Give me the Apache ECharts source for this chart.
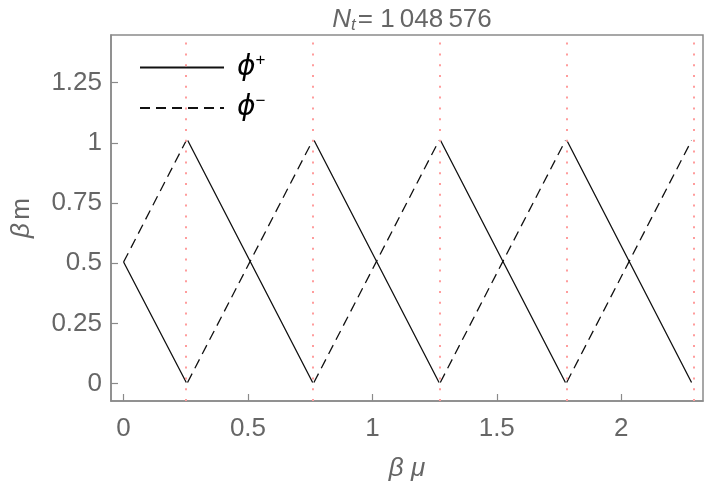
<!DOCTYPE html>
<html>
<head>
<meta charset="utf-8">
<script src="https://cdn.jsdelivr.net/npm/echarts@6/dist/echarts.min.js"></script>
<style>
  html, body { margin: 0; padding: 0; background: #fff; }
  #chart { width: 706px; height: 491px; }
</style>
</head>
<body>
<div id="chart"></div>
<script>
// phi+ (solid): sawtooth going down, jumps at the red lines
const phiPlus = [
  [0, 0.505], [0.252, 0.005], null,
  [0.258, 1.01], [0.760, 0.005], null,
  [0.766, 1.01], [1.268, 0.005], null,
  [1.274, 1.01], [1.776, 0.005], null,
  [1.782, 1.01], [2.283, 0.005],
];
// phi- (dashed): sawtooth going up
const phiMinus = [
  [0, 0.505], [0.252, 1.01], null,
  [0.257, 0.005], [0.760, 1.01], null,
  [0.765, 0.005], [1.268, 1.01], null,
  [1.273, 0.005], [1.776, 1.01], null,
  [1.781, 0.005], [2.283, 1.01],
];
// red dotted vertical markers
const redLines = [0.254, 0.762, 1.270, 1.778, 2.286];
const xTicks = [0, 0.5, 1, 1.5, 2];
const yTicks = [0, 0.25, 0.5, 0.75, 1, 1.25];

const gray = '#666';
const frame = '#8a8a8a';
const font = 'Liberation Sans, Arial, sans-serif';

const chart = echarts.init(document.getElementById('chart'));
chart.setOption({
  animation: false,
  textStyle: { fontFamily: font },
  title: {
    text: '{i|N}{s|t}{n|= 1\u2009048\u2009576}',
    left: 407,
    textAlign: 'center',
    top: 0,
    textStyle: {
      fontWeight: 'normal',
      rich: {
        i: { fontSize: 26, fontStyle: 'italic', fontWeight: 'normal', color: gray, fontFamily: font },
        s: { fontSize: 17, fontStyle: 'italic', fontWeight: 'normal', color: gray, fontFamily: font, verticalAlign: 'bottom', padding: [12, 2, 0, 0] },
        n: { fontSize: 26, fontWeight: 'normal', color: gray, fontFamily: font },
      },
    },
  },
  legend: {
    left: 134,
    top: 47,
    orient: 'vertical',
    itemWidth: 84,
    itemHeight: 14,
    itemGap: 11,
    data: ['phiPlus', 'phiMinus'],
    itemStyle: { opacity: 0 },
    formatter: name => name === 'phiPlus' ? '{p|\u03d5}{s|+}' : '{p|\u03d5}{s|\u2212}',
    textStyle: {
      padding: [0, 0, 0, 8],
      rich: {
        p: { fontSize: 28, fontStyle: 'italic', color: '#000', fontFamily: 'DejaVu Sans' },
        s: { fontSize: 17, color: '#000', verticalAlign: 'top', padding: [0, 0, 14, 0] },
      },
    },
  },
  grid: {
    left: 111,
    right: 3,
    top: 35,
    bottom: 90,
    show: true,
    borderColor: frame,
    borderWidth: 1.5,
  },
  xAxis: {
    type: 'value',
    min: -0.0506,
    max: 2.329,
    name: '{b|\u03b2 \u03bc}',
    nameLocation: 'middle',
    nameGap: 55,
    nameTextStyle: {
      rich: { b: { fontSize: 26, fontStyle: 'italic', color: gray, fontFamily: font } },
    },
    axisLine: { onZero: false, lineStyle: { color: frame, width: 1.5 } },
    axisTick: { inside: true, length: 7, customValues: xTicks, lineStyle: { color: frame, width: 1.2 } },
    axisLabel: { customValues: xTicks, margin: 15, fontSize: 26, color: gray, formatter: v => String(v) },
    splitLine: { show: false },
  },
  yAxis: {
    type: 'value',
    min: -0.072,
    max: 1.448,
    name: '{b|\u03b2} {m|m}',
    nameLocation: 'middle',
    nameGap: 76,
    nameTextStyle: {
      rich: {
        b: { fontSize: 26, fontStyle: 'italic', color: gray, fontFamily: font },
        m: { fontSize: 26, color: gray, fontFamily: font },
      },
    },
    axisLine: { onZero: false, lineStyle: { color: frame, width: 1.5 } },
    axisTick: { inside: true, length: 7, customValues: yTicks, lineStyle: { color: frame, width: 1.2 } },
    axisLabel: { customValues: yTicks, margin: 9, fontSize: 26, color: gray, formatter: v => String(v) },
    splitLine: { show: false },
  },
  series: [
    {
      name: 'phiPlus',
      type: 'line',
      data: phiPlus,
      symbol: 'none',
      connectNulls: false,
      lineStyle: { color: '#111', width: 1.3 },
      itemStyle: { color: '#111' },
      markLine: {
        silent: true,
        symbol: 'none',
        label: { show: false },
        lineStyle: { color: '#ff9c9c', width: 2, type: [2, 8.8] },
        data: redLines.map(v => ({ xAxis: v })),
      },
    },
    {
      name: 'phiMinus',
      type: 'line',
      data: phiMinus,
      symbol: 'none',
      connectNulls: false,
      lineStyle: { color: '#111', width: 1.3, type: [10, 6] },
      itemStyle: { color: '#111' },
    },
  ],
});
</script>
</body>
</html>
